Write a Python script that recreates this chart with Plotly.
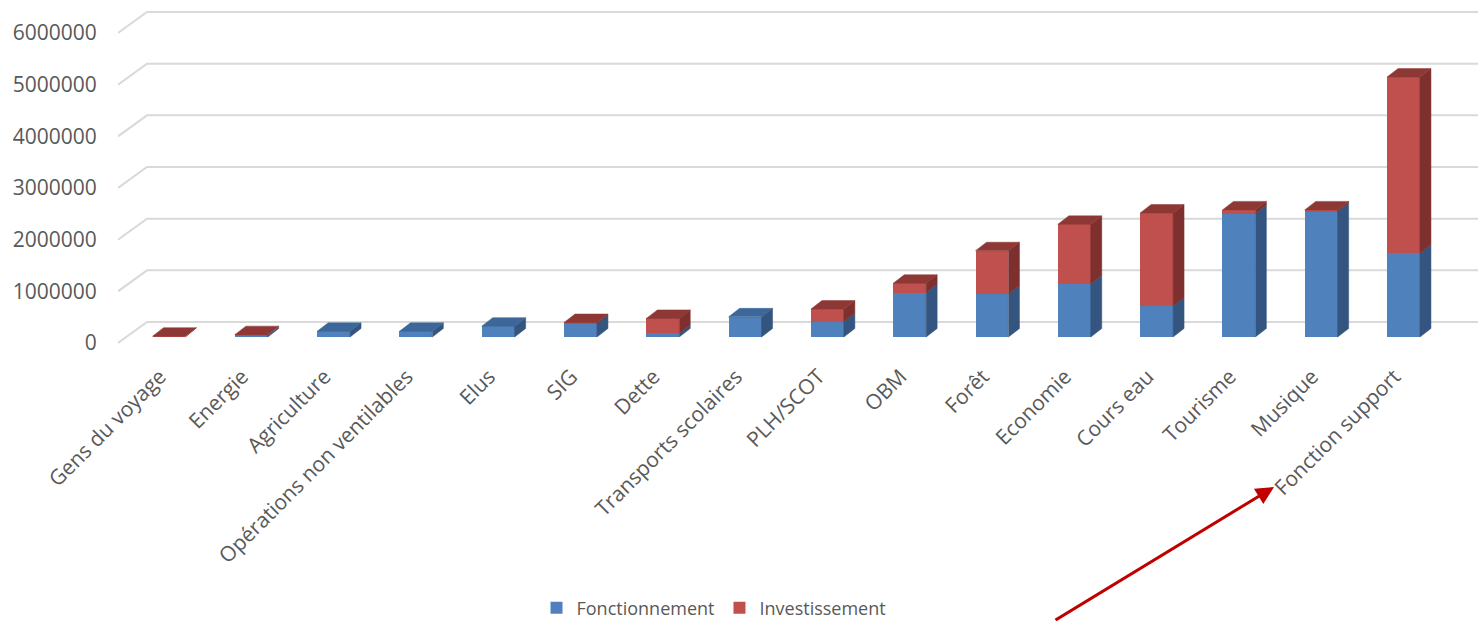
import plotly.graph_objects as go

# ---------------- data ----------------
categories = ["Gens du voyage", "Energie", "Agriculture", "Opérations non ventilables",
              "Elus", "SIG", "Dette", "Transports scolaires", "PLH/SCOT", "OBM", "Forêt",
              "Economie", "Cours eau", "Tourisme", "Musique", "Fonction support"]
fonctionnement = [0, 30000, 110000, 110000, 210000, 260000, 70000, 390000, 300000,
                  860000, 830000, 1030000, 600000, 2390000, 2430000, 1620000]
investissement = [15000, 15000, 0, 0, 0, 20000, 290000, 0, 240000,
                  180000, 840000, 1150000, 1800000, 70000, 30000, 3410000]
y_ticks = [0, 1000000, 2000000, 3000000, 4000000, 5000000, 6000000]
series_names = ["Fonctionnement", "Investissement"]

# ---------------- geometry / style ----------------
W, H = 1478, 621
ML, MB = 118, 271                 # plot area: x 118..1478, y 0..350
PH = H - MB
PX_PER_CAT = 82.3
PX_PER_VAL = 51.67 / 1e6
FIRST_CENTER_PX = 169
BAR_W = 0.40
DX = 11 / PX_PER_CAT              # 3D depth offset (category units)
DY = 8.5 / PX_PER_VAL             # 3D depth offset (value units)
BACK_DX = 29 / PX_PER_CAT         # back wall offset for gridlines
BACK_RISE = 21 / PX_PER_VAL

x_lo = -(FIRST_CENTER_PX - ML) / PX_PER_CAT
x_hi = x_lo + (W - ML) / PX_PER_CAT

def yrange(zero_px):
    return [-(PH - zero_px) / PX_PER_VAL, zero_px / PX_PER_VAL]

BAR_ZERO_PX = 337
TICK_ZERO_PX = 343

BLUE, BLUE_TOP, BLUE_SIDE = "#4F81BD", "#3D6798", "#34557F"
RED, RED_TOP, RED_SIDE = "#C0504D", "#8E3835", "#7D302E"
GRID = "#D9D9D9"
TXT = "#595959"
FONT = "Open Sans"

idx = list(range(len(categories)))

fig = go.Figure()

# ---- back wall gridlines + left diagonals (main subplot, below the bars) ----
gx, gy = [], []
for v in y_ticks:
    gx += [x_lo, x_lo + BACK_DX, x_hi, None]
    gy += [v, v + BACK_RISE, v + BACK_RISE, None]
fig.add_trace(go.Scatter(x=gx, y=gy, mode="lines", line=dict(color=GRID, width=2),
                         hoverinfo="skip", showlegend=False, xaxis="x", yaxis="y"))

# ---- front faces (bars) ----
fig.add_trace(go.Bar(x=idx, y=fonctionnement, name=series_names[0], width=BAR_W,
                     marker=dict(color=BLUE, line=dict(width=0)), xaxis="x2", yaxis="y2"))
fig.add_trace(go.Bar(x=idx, y=investissement, name=series_names[1], width=BAR_W,
                     marker=dict(color=RED, line=dict(width=0)), xaxis="x2", yaxis="y2"))

# ---- side and top faces ----
side = {BLUE_SIDE: ([], []), RED_SIDE: ([], [])}
top = {BLUE_TOP: ([], []), RED_TOP: ([], [])}
for i, f, inv in zip(idx, fonctionnement, investissement):
    xl, xr = i - BAR_W / 2, i + BAR_W / 2
    for lo, hi, col in ((0, f, BLUE_SIDE), (f, f + inv, RED_SIDE)):
        if hi > lo:
            sx, sy = side[col]
            sx += [xr, xr + DX, xr + DX, xr, xr, None]
            sy += [lo, lo + DY, hi + DY, hi, lo, None]
    t = f + inv
    col = RED_TOP if inv > 0 else BLUE_TOP
    tx, ty = top[col]
    tx += [xl, xl + DX, xr + DX, xr, xl, None]
    ty += [t, t + DY, t + DY, t, t, None]

for col, (sx, sy) in side.items():
    fig.add_trace(go.Scatter(x=sx, y=sy, mode="lines", fill="toself", fillcolor=col,
                             line=dict(color=col, width=0.5), hoverinfo="skip",
                             showlegend=False, xaxis="x2", yaxis="y2"))
for col, (tx, ty) in top.items():
    fig.add_trace(go.Scatter(x=tx, y=ty, mode="lines", fill="toself", fillcolor=col,
                             line=dict(color=col, width=0.5), hoverinfo="skip",
                             showlegend=False, xaxis="x2", yaxis="y2"))

fig.update_layout(
    width=W, height=H,
    margin=dict(l=ML, r=0, t=0, b=MB, pad=0, autoexpand=False),
    paper_bgcolor="white", plot_bgcolor="rgba(0,0,0,0)",
    barmode="stack",
    font=dict(family=FONT, color=TXT),
    xaxis=dict(range=[x_lo, x_hi], tickmode="array", tickvals=idx, ticktext=categories,
               tickangle=-45, tickfont=dict(size=21, color=TXT, family=FONT),
               ticks="outside", ticklen=5, tickcolor="rgba(0,0,0,0)",
               ticklabelshift=-9,
               showgrid=False, zeroline=False, showline=False, automargin=False,
               fixedrange=True),
    yaxis=dict(range=yrange(TICK_ZERO_PX), tickmode="array", tickvals=y_ticks,
               ticktext=[str(v) for v in y_ticks],
               tickfont=dict(size=21, color=TXT, family=FONT),
               ticks="outside", ticklen=16, tickcolor="rgba(0,0,0,0)",
               showgrid=False, zeroline=False, showline=False, automargin=False,
               fixedrange=True),
    xaxis2=dict(range=[x_lo, x_hi], overlaying="x", visible=False, fixedrange=True),
    yaxis2=dict(range=yrange(BAR_ZERO_PX), overlaying="y", visible=False, fixedrange=True),
    legend=dict(orientation="h", traceorder="normal", x=(714 - ML) / (W - ML), xanchor="center",
                y=(PH - 608) / PH, yanchor="middle",
                font=dict(size=18, color=TXT, family=FONT), bgcolor="rgba(0,0,0,0)"),
    annotations=[dict(x=(1274 - ML) / (W - ML), y=(PH - 487) / PH, xref="paper", yref="paper",
                      text="", showarrow=True, ax=-220, ay=140, arrowhead=2, arrowsize=1.2,
                      arrowwidth=3, arrowcolor="#C00000")],
)

fig.write_html("out.html")
